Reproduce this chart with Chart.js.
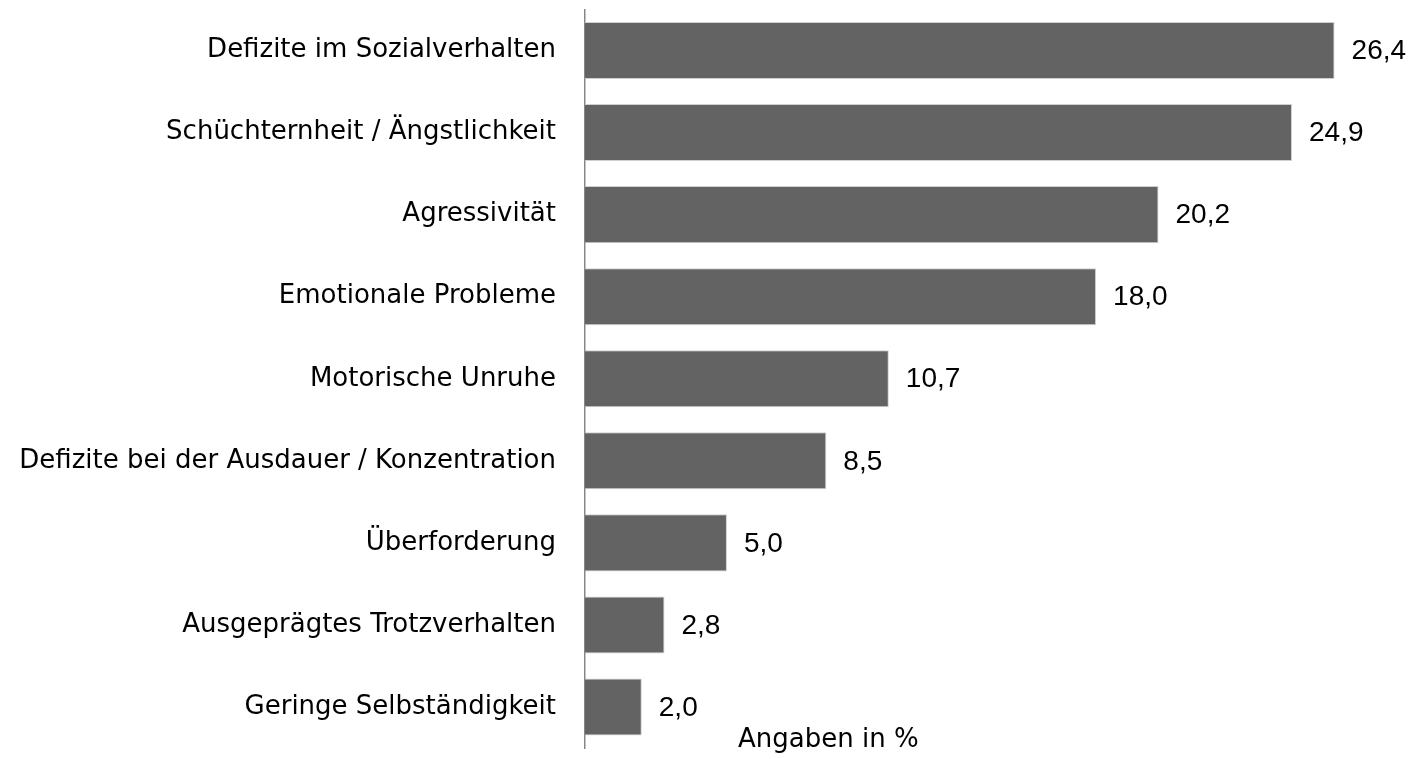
<!DOCTYPE html>
<html lang="de">
<head>
    <meta charset="UTF-8">
    <title>Angaben in %</title>
    <script src="https://cdn.jsdelivr.net/npm/chart.js"></script>
    <style>
        html, body {
            margin: 0;
            padding: 0;
            background: #ffffff;
        }
        .wrap {
            width: 1411px;
            height: 759px;
        }
    </style>
</head>
<body>
    <div class="wrap">
        <canvas id="chart" width="1411" height="759"></canvas>
    </div>

    <script>
        const categories = [
            'Defizite im Sozialverhalten',
            'Schüchternheit / Ängstlichkeit',
            'Agressivität',
            'Emotionale Probleme',
            'Motorische Unruhe',
            'Defizite bei der Ausdauer / Konzentration',
            'Überforderung',
            'Ausgeprägtes Trotzverhalten',
            'Geringe Selbständigkeit'
        ];
        const values = [26.4, 24.9, 20.2, 18.0, 10.7, 8.5, 5.0, 2.8, 2.0];
        const axisNote = 'Angaben in %';

        const labelFont = "'DejaVu Sans', sans-serif";
        const numFont = "'Liberation Sans', Arial, sans-serif";

        // Zahlen an den Balkenenden (mit Komma)
        const valueLabels = {
            id: 'valueLabels',
            afterDatasetsDraw(chart) {
                const ctx = chart.ctx;
                const meta = chart.getDatasetMeta(0);
                ctx.save();
                ctx.font = '28px ' + numFont;
                ctx.fillStyle = '#000';
                ctx.textAlign = 'left';
                ctx.textBaseline = 'middle';
                meta.data.forEach((bar, i) => {
                    const txt = values[i].toFixed(1).replace('.', ',');
                    ctx.fillText(txt, bar.x + 17, bar.y + 1);
                });
                ctx.restore();
            }
        };

        const noteLabel = {
            id: 'noteLabel',
            afterDraw(chart) {
                const ctx = chart.ctx;
                const xs = chart.scales.x;
                ctx.save();
                ctx.font = '26px ' + labelFont;
                ctx.fillStyle = '#000';
                ctx.textAlign = 'center';
                ctx.textBaseline = 'middle';
                ctx.fillText(axisNote, xs.getPixelForValue(8.57), chart.chartArea.bottom - 8);
                ctx.restore();
            }
        };

        const ctx = document.getElementById('chart').getContext('2d');
        new Chart(ctx, {
            type: 'bar',
            data: {
                labels: categories,
                datasets: [{
                    data: values,
                    backgroundColor: '#636363',
                    borderColor: '#d0d0d0',
                    borderWidth: 1,
                    categoryPercentage: 0.695,
                    barPercentage: 1
                }]
            },
            options: {
                indexAxis: 'y',
                responsive: false,
                animation: false,
                layout: {
                    padding: { top: 9.5, bottom: 11, left: 0, right: 31 }
                },
                plugins: {
                    legend: { display: false },
                    tooltip: { enabled: false }
                },
                scales: {
                    x: {
                        display: false,
                        min: 0,
                        max: 28
                    },
                    y: {
                        afterFit(scale) {
                            scale.width = 585;
                            scale.paddingTop = 0;
                            scale.paddingBottom = 0;
                        },
                        grid: { display: false, drawTicks: false },
                        border: { display: true, color: '#878787', width: 1.5 },
                        ticks: {
                            color: '#000',
                            padding: 29,
                            font: { family: labelFont, size: 26 }
                        }
                    }
                }
            },
            plugins: [valueLabels, noteLabel]
        });
    </script>
</body>
</html>
